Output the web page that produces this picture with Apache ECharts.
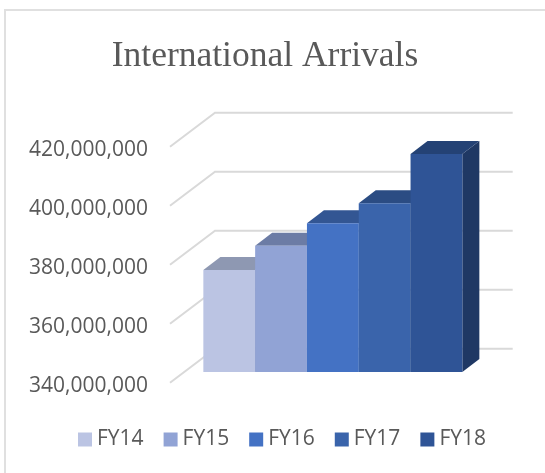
<!DOCTYPE html>
<html>
<head>
<meta charset="utf-8">
<style>
  html, body { margin: 0; padding: 0; background: #fff; }
  #chart { width: 545px; height: 473px; }
</style>
</head>
<body>
<div id="chart"></div>
<script src="https://cdn.jsdelivr.net/npm/echarts@6/dist/echarts.min.js"></script>
<script>
const years = ["FY14", "FY15", "FY16", "FY17", "FY18"];
const arrivals = [374600000, 382800000, 390400000, 397200000, 413900000];
const yTicks = [340000000, 360000000, 380000000, 400000000, 420000000];

const frontColors = ["#BBC4E3", "#91A3D5", "#4472C4", "#3A64AB", "#2F5496"];
const topColors = ["#8E98B2", "#6C7CA5", "#335693", "#2B4C83", "#244275"];
const sideColors = ["#8A94B0", "#6A79A3", "#2F5190", "#284878", "#1F3864"];

// fake 3d: wall depth and where the bars sit inside it, in pixels
const wallDepth = [45, -34];
const barShift = [14, -10.7];
const barDepth = [17, -13];
const barsShare = 0.87;

const chart = echarts.init(document.getElementById("chart"));

const renderWalls = (params, api) => {
  const p = api.coord([0, api.value(1)]);
  const rect = params.coordSys;
  const backY = p[1] + wallDepth[1];
  return {
    type: "polyline",
    shape: {
      points: [
        [rect.x, p[1]],
        [rect.x + wallDepth[0], backY],
        [rect.x + rect.width + wallDepth[0], backY],
      ],
    },
    style: { fill: null, stroke: "#D9D9D9", lineWidth: 2 },
  };
};

const renderBar = (i) => (params, api) => {
  const top = api.coord([0, api.value(1)]);
  const bottom = api.coord([0, yTicks[0]]);
  const band = api.size([1, 0])[0];
  const w = (band * barsShare) / years.length;
  const x0 = top[0] - (band * barsShare) / 2 + i * w + barShift[0];
  const x1 = x0 + w;
  const y0 = top[1] + barShift[1];
  const y1 = bottom[1] + barShift[1];
  const dx = barDepth[0];
  const dy = barDepth[1];
  return {
    type: "group",
    children: [
      {
        type: "polygon",
        shape: { points: [[x1, y0], [x1 + dx, y0 + dy], [x1 + dx, y1 + dy], [x1, y1]] },
        style: { fill: sideColors[i] },
      },
      {
        type: "polygon",
        shape: { points: [[x0, y0], [x0 + dx, y0 + dy], [x1 + dx, y0 + dy], [x1, y0]] },
        style: { fill: topColors[i] },
      },
      {
        type: "rect",
        shape: { x: x0, y: y0, width: w, height: y1 - y0 },
        style: { fill: frontColors[i] },
      },
    ],
  };
};

chart.setOption({
  animation: false,
  title: {
    text: "International Arrivals",
    left: 260,
    top: 34,
    textAlign: "center",
    textStyle: {
      fontFamily: "Liberation Serif",
      fontSize: 35.5,
      fontWeight: "normal",
      color: "#595959",
    },
  },
  legend: {
    data: years,
    left: 73,
    top: 424,
    icon: "rect",
    itemWidth: 14,
    itemHeight: 14,
    itemGap: 20,
    textStyle: { fontFamily: "Open Sans", fontSize: 21, color: "#595959" },
  },
  grid: { left: 170, top: 146.7, width: 297.7, height: 236 },
  xAxis: {
    type: "category",
    data: ["International Arrivals"],
    axisLine: { show: false },
    axisTick: { show: false },
    axisLabel: { show: false },
  },
  yAxis: {
    type: "value",
    min: yTicks[0],
    max: yTicks[yTicks.length - 1],
    interval: 20000000,
    axisLine: { show: false },
    axisTick: { show: false },
    splitLine: { show: false },
    axisLabel: {
      margin: 22,
      // small line box with top align pushes the text down to sit level with the wall lines
      verticalAlign: "top",
      lineHeight: 6,
      fontFamily: "Open Sans",
      fontSize: 21,
      color: "#595959",
      formatter: (v) => v.toLocaleString("en-US"),
    },
  },
  series: [
    {
      name: "walls",
      type: "custom",
      renderItem: renderWalls,
      data: yTicks.map((v) => [0, v]),
      silent: true,
      z: 1,
    },
    ...years.map((name, i) => ({
      name,
      type: "custom",
      renderItem: renderBar(i),
      data: [[0, arrivals[i]]],
      itemStyle: { color: frontColors[i] },
      encode: { x: 0, y: 1 },
      z: 2,
    })),
  ],
  graphic: [
    {
      type: "polyline",
      shape: { points: [[5, 473], [5, 10], [545, 10]] },
      style: { fill: null, stroke: "#E0E0E0", lineWidth: 2 },
    },
  ],
});
</script>
</body>
</html>
